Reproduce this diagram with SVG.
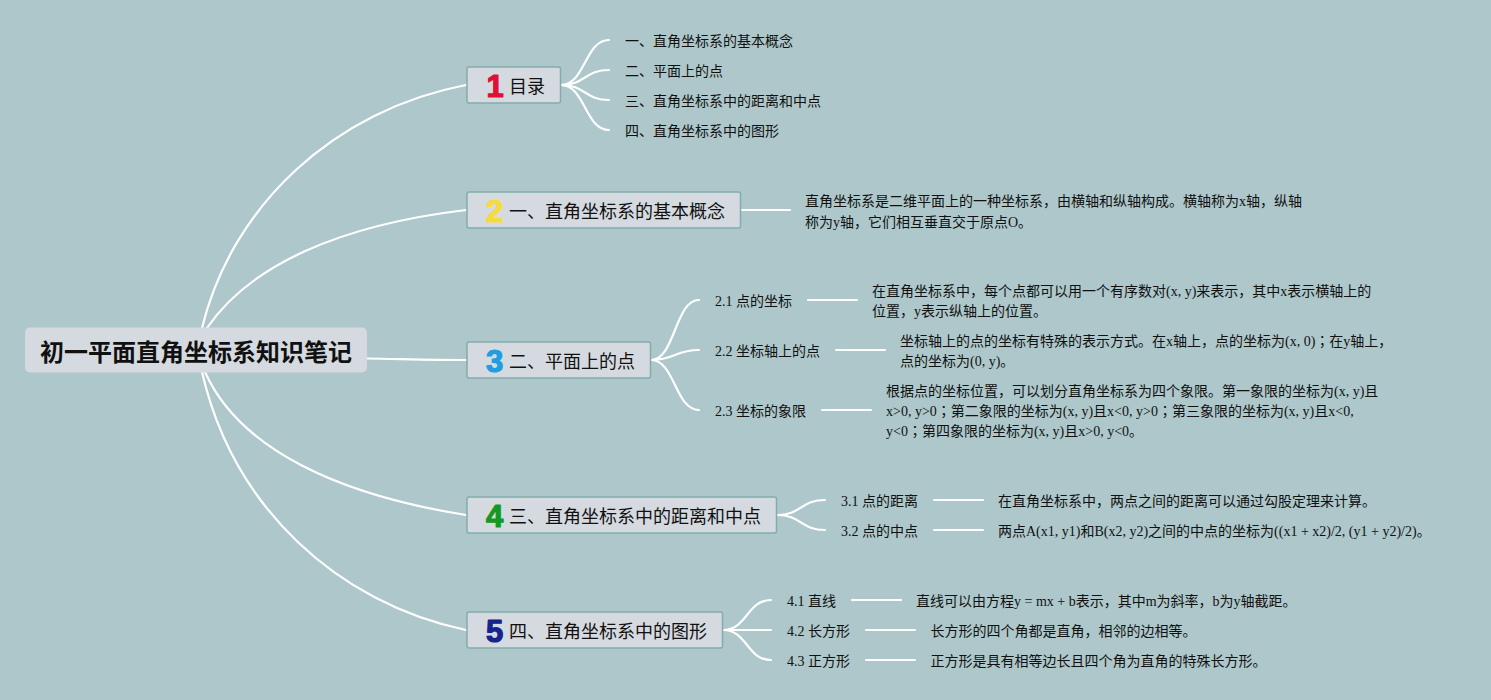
<svg xmlns="http://www.w3.org/2000/svg" width="1491" height="700" viewBox="0 0 1491 700">
<style>
text{font-family:"Liberation Serif","Noto Sans CJK SC",serif;fill:#111}
tspan.s{font-family:"Noto Sans CJK JP",sans-serif}
.t{font-size:14px}
.h{font-size:18px;font-family:"Noto Sans CJK SC",sans-serif}
.r{font-size:24px;font-weight:700;font-family:"Noto Sans CJK SC",sans-serif}
.n{font-size:31px;font-weight:700;font-family:"Liberation Sans",sans-serif;text-anchor:middle;stroke-width:1.2;stroke-linejoin:round}
.b{fill:#d5dae0;stroke:#82adaa;stroke-width:1.5}
#connectors path{fill:none;stroke:#fff;stroke-width:2.2;stroke-linecap:round}
</style>
<rect width="1491" height="700" fill="#adc7ca"/>
<g id="connectors">
<path d="M202 328C232 205 335 110 466 85"/>
<path d="M207 328C250 265 340 225 466 210"/>
<path d="M367 358.500C400 359 435 360 466 360"/>
<path d="M205 372C240 450 340 495 466 515"/>
<path d="M202 372C233 507 337 603 466 630"/>
<path d="M561 85C585 85 585 40 609 40"/>
<path d="M561 85C585 85 585 70 609 70"/>
<path d="M561 85C585 85 585 100 609 100"/>
<path d="M561 85C585 85 585 130 609 130"/>
<path d="M741 210H790"/>
<path d="M651 360C675 360 675 300 699 300"/>
<path d="M651 360C675 360 675 350 699 350"/>
<path d="M651 360C675 360 675 410 699 410"/>
<path d="M808 300H857"/>
<path d="M836 350H885"/>
<path d="M822 410H871"/>
<path d="M777 515C801 515 801 500 825 500"/>
<path d="M777 515C801 515 801 530 825 530"/>
<path d="M934 500H983"/>
<path d="M934 530H983"/>
<path d="M723 630C747 630 747 600 771 600"/>
<path d="M723 630H771"/>
<path d="M723 630C747 630 747 660 771 660"/>
<path d="M852 600H901"/>
<path d="M866 630H915"/>
<path d="M866 660H915"/>
</g>
<g id="root"><rect x="25" y="327.500" width="342" height="45" rx="5" fill="#d5dae0"/><text class="r" x="40" y="361">初一平面直角坐标系知识笔记</text></g>
<g id="topic1"><rect class="b" x="467" y="67" width="93.500" height="36" rx="2"/><text class="n" x="495" y="96.500" style="fill:#dd1133;stroke:#dd1133">1</text><text class="h" x="509" y="93">目录</text></g>
<g id="topic2"><rect class="b" x="467" y="192" width="273.500" height="36" rx="2"/><text class="n" x="494.500" y="221.500" style="fill:#f5dc3c;stroke:#f5dc3c">2</text><text class="h" x="509" y="218">一、直角坐标系的基本概念</text></g>
<g id="topic3"><rect class="b" x="467" y="342" width="183.500" height="36" rx="2"/><text class="n" x="494.500" y="371.500" style="fill:#209de0;stroke:#209de0">3</text><text class="h" x="509" y="368">二、平面上的点</text></g>
<g id="topic4"><rect class="b" x="467" y="497" width="309.500" height="36" rx="2"/><text class="n" x="494.500" y="526.500" style="fill:#129a1f;stroke:#129a1f">4</text><text class="h" x="509" y="523">三、直角坐标系中的距离和中点</text></g>
<g id="topic5"><rect class="b" x="467" y="612" width="255.500" height="36" rx="2"/><text class="n" x="494.500" y="641.500" style="fill:#14248c;stroke:#14248c">5</text><text class="h" x="509" y="638">四、直角坐标系中的图形</text></g>
<g id="toc">
<text class="t" x="625" y="46">一、直角坐标系的基本概念</text>
<text class="t" x="625" y="76">二、平面上的点</text>
<text class="t" x="625" y="106">三、直角坐标系中的距离和中点</text>
<text class="t" x="625" y="136">四、直角坐标系中的图形</text>
</g>
<g id="note1"><text class="t" x="805" y="206">直角坐标系是二维平面上的一种坐标系，由横轴和纵轴构成。横轴称为x轴，纵轴</text><text class="t" x="805" y="227">称为y轴，它们相互垂直交于原点O。</text></g>
<g id="n21"><text class="t" x="715" y="306">2.1 点的坐标</text><text class="t" x="872" y="296">在直角坐标系中，每个点都可以用一个有序数对(x, y)来表示，其中x表示横轴上的</text><text class="t" x="872" y="316">位置，y表示纵轴上的位置。</text></g>
<g id="n22"><text class="t" x="715" y="356">2.2 坐标轴上的点</text><text class="t" x="900" y="346">坐标轴上的点的坐标有特殊的表示方式。在x轴上，点的坐标为(x, 0)<tspan class="s">；</tspan>在y轴上，</text><text class="t" x="900" y="366">点的坐标为(0, y)。</text></g>
<g id="n23"><text class="t" x="715" y="416">2.3 坐标的象限</text><text class="t" x="886" y="396">根据点的坐标位置，可以划分直角坐标系为四个象限。第一象限的坐标为(x, y)且</text><text class="t" x="886" y="416">x&gt;0, y&gt;0<tspan class="s">；</tspan>第二象限的坐标为(x, y)且x&lt;0, y&gt;0<tspan class="s">；</tspan>第三象限的坐标为(x, y)且x&lt;0,</text><text class="t" x="886" y="436">y&lt;0<tspan class="s">；</tspan>第四象限的坐标为(x, y)且x&gt;0, y&lt;0。</text></g>
<g id="n31"><text class="t" x="841" y="506">3.1 点的距离</text><text class="t" x="998" y="506">在直角坐标系中，两点之间的距离可以通过勾股定理来计算。</text></g>
<g id="n32"><text class="t" x="841" y="536">3.2 点的中点</text><text class="t" x="998" y="536">两点A(x1, y1)和B(x2, y2)之间的中点的坐标为((x1 + x2)/2, (y1 + y2)/2)。</text></g>
<g id="n41"><text class="t" x="787" y="606">4.1 直线</text><text class="t" x="916" y="606">直线可以由方程y = mx + b表示，其中m为斜率，b为y轴截距。</text></g>
<g id="n42"><text class="t" x="787" y="636">4.2 长方形</text><text class="t" x="930.500" y="636">长方形的四个角都是直角，相邻的边相等。</text></g>
<g id="n43"><text class="t" x="787" y="666">4.3 正方形</text><text class="t" x="930.500" y="666">正方形是具有相等边长且四个角为直角的特殊长方形。</text></g>
</svg>
